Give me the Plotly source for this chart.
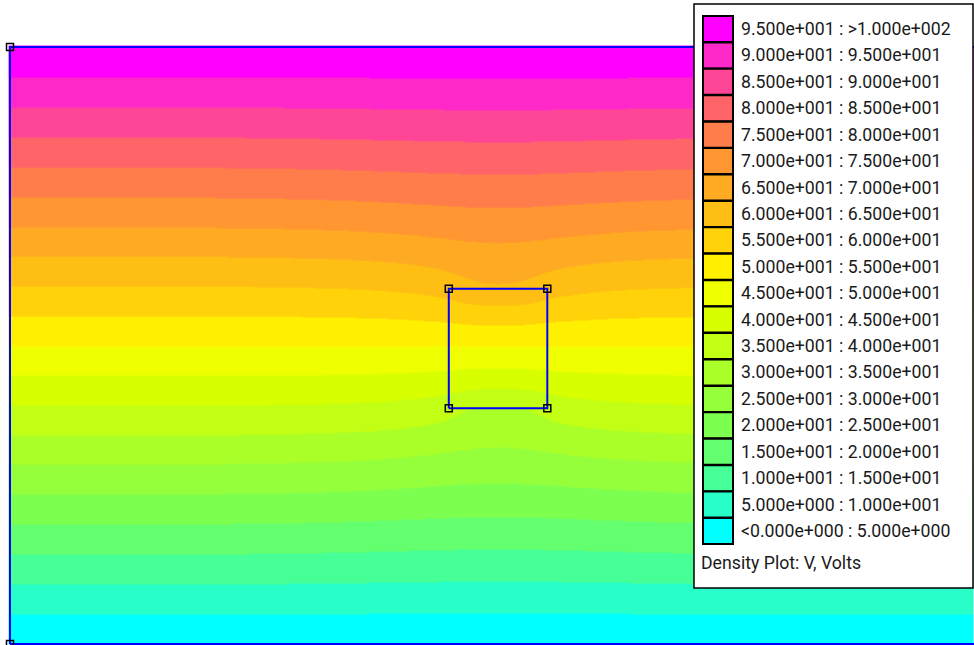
import numpy as np
import plotly.graph_objects as go

# ---- electrostatic problem (lengths in mm, potentials in volts) ----
domain_width = 164.0
domain_height = 100.0
block_x = [73.5, 90.0]
block_y = [39.5, 59.5]
v_top = 100.0
v_bottom = 0.0
eps_background = 3.0
eps_block = 1.0

# ---- density plot bands (lowest to highest) ----
band_edges = [0, 5, 10, 15, 20, 25, 30, 35, 40, 45, 50,
              55, 60, 65, 70, 75, 80, 85, 90, 95, 100]
band_colors = ["#00FFFF", "#28FFC8", "#46FF96", "#64FF6E", "#7DFF50",
               "#96FF3C", "#AAFF28", "#C3FF14", "#D7FF00", "#F0FF00",
               "#FFF000", "#FFD20A", "#FFBE14", "#FFAA23", "#FF9632",
               "#FF7D4B", "#FF6469", "#FF4696", "#FF28C8", "#FF00FF"]
band_labels = ["<0.000e+000 : 5.000e+000", "5.000e+000 : 1.000e+001",
               "1.000e+001 : 1.500e+001", "1.500e+001 : 2.000e+001",
               "2.000e+001 : 2.500e+001", "2.500e+001 : 3.000e+001",
               "3.000e+001 : 3.500e+001", "3.500e+001 : 4.000e+001",
               "4.000e+001 : 4.500e+001", "4.500e+001 : 5.000e+001",
               "5.000e+001 : 5.500e+001", "5.500e+001 : 6.000e+001",
               "6.000e+001 : 6.500e+001", "6.500e+001 : 7.000e+001",
               "7.000e+001 : 7.500e+001", "7.500e+001 : 8.000e+001",
               "8.000e+001 : 8.500e+001", "8.500e+001 : 9.000e+001",
               "9.000e+001 : 9.500e+001", "9.500e+001 : >1.000e+002"]
plot_title = "Density Plot: V, Volts"

# ---- finite-difference solution of div(eps grad V) = 0 ----
h = 0.5
nx = int(round(domain_width / h)) + 1
ny = int(round(domain_height / h)) + 1
x = np.linspace(0.0, domain_width, nx)
y = np.linspace(0.0, domain_height, ny)

xc = 0.5 * (x[:-1] + x[1:])
yc = 0.5 * (y[:-1] + y[1:])
XC, YC = np.meshgrid(xc, yc)
inside = ((XC > block_x[0]) & (XC < block_x[1]) &
          (YC > block_y[0]) & (YC < block_y[1]))
eps = np.where(inside, eps_block, eps_background)

epsp = np.pad(eps, ((1, 1), (0, 0)))
cx = 0.5 * (epsp[:-1] + epsp[1:])          # edges along x, (ny, nx-1)
epsq = np.pad(eps, ((0, 0), (1, 1)))
cy = 0.5 * (epsq[:, :-1] + epsq[:, 1:])    # edges along y, (ny-1, nx)

aE = np.zeros((ny, nx)); aE[:, :-1] = cx
aW = np.zeros((ny, nx)); aW[:, 1:] = cx
aN = np.zeros((ny, nx)); aN[:-1, :] = cy
aS = np.zeros((ny, nx)); aS[1:, :] = cy
asum = aE + aW + aN + aS
asum[asum == 0] = 1.0

V = np.repeat((v_bottom + (v_top - v_bottom) * y / domain_height)[:, None], nx, axis=1)
JJ, II = np.indices((ny, nx))
interior = (JJ > 0) & (JJ < ny - 1)
red = interior & ((JJ + II) % 2 == 0)
black = interior & ((JJ + II) % 2 == 1)
omega = 1.96
for it in range(3000):
    change = 0.0
    for mask in (red, black):
        Vp = np.pad(V, 1)
        S = (aE * Vp[1:-1, 2:] + aW * Vp[1:-1, :-2] +
             aN * Vp[2:, 1:-1] + aS * Vp[:-2, 1:-1])
        R = S / asum - V
        V[mask] += omega * R[mask]
        change = max(change, np.abs(R[mask]).max())
    if change < 1e-6:
        break

# ---- figure ----
W_PX, H_PX = 974, 645
PX_PER_MM = 5.97
ORIGIN_PX = (10, 644)          # pixel of (x=0, y=0)

x_range = [-ORIGIN_PX[0] / PX_PER_MM, (W_PX - ORIGIN_PX[0]) / PX_PER_MM]
y_range = [(ORIGIN_PX[1] - H_PX) / PX_PER_MM, ORIGIN_PX[1] / PX_PER_MM]

n_bands = len(band_colors)
colorscale = []
for k, c in enumerate(band_colors):
    colorscale.append([k / n_bands, c])
    colorscale.append([(k + 1) / n_bands, c])

fig = go.Figure()
fig.add_trace(go.Heatmap(
    x=x, y=y, z=V, zmin=band_edges[0], zmax=band_edges[-1],
    colorscale=colorscale, zsmooth="best", showscale=False, hoverinfo="skip"))

# outer boundary
fig.add_trace(go.Scatter(
    x=[0, domain_width, domain_width, 0, 0],
    y=[0, 0, domain_height, domain_height, 0],
    mode="lines", line=dict(color="#0000FF", width=2), hoverinfo="skip"))
# block outline
bx = [block_x[0], block_x[1], block_x[1], block_x[0], block_x[0]]
by = [block_y[0], block_y[0], block_y[1], block_y[1], block_y[0]]
fig.add_trace(go.Scatter(x=bx, y=by, mode="lines",
                         line=dict(color="#0000FF", width=2), hoverinfo="skip"))
# nodes
node_x = [0, 0, domain_width, domain_width] + bx[:4]
node_y = [0, domain_height, 0, domain_height] + by[:4]
fig.add_trace(go.Scatter(
    x=node_x, y=node_y, mode="markers",
    marker=dict(symbol="square-open", size=7, color="#000000",
                line=dict(width=1.5, color="#000000")),
    hoverinfo="skip"))


def fx(px):
    return px / W_PX


def fy(py):
    return 1 - py / H_PX


LABEL_FONT = dict(family="Roboto", size=17.7, color="#1a1a1a")
shapes = [dict(type="rect", xref="paper", yref="paper",
               x0=fx(694), x1=fx(973), y0=fy(588), y1=fy(4),
               fillcolor="white", line=dict(color="black", width=1.5),
               layer="above")]
annotations = []
SW_TOP, SW_PITCH, SW_H = 16, 26.42, 26
for i in range(n_bands):
    k = n_bands - 1 - i
    top = SW_TOP + i * SW_PITCH
    shapes.append(dict(type="rect", xref="paper", yref="paper",
                       x0=fx(703), x1=fx(733), y0=fy(top + SW_H), y1=fy(top),
                       fillcolor=band_colors[k], line=dict(color="black", width=2),
                       layer="above"))
    annotations.append(dict(xref="paper", yref="paper", x=fx(739),
                            y=fy(top + SW_H / 2), xanchor="left", yanchor="middle",
                            text=band_labels[k], showarrow=False, font=LABEL_FONT))
annotations.append(dict(xref="paper", yref="paper", x=fx(699), y=fy(563),
                        xanchor="left", yanchor="middle", text=plot_title,
                        showarrow=False, font=LABEL_FONT))

fig.update_layout(
    width=W_PX, height=H_PX, margin=dict(l=0, r=0, t=0, b=0),
    paper_bgcolor="white", plot_bgcolor="white", showlegend=False,
    xaxis=dict(range=x_range, visible=False, fixedrange=True),
    yaxis=dict(range=y_range, visible=False, fixedrange=True),
    shapes=shapes, annotations=annotations)

fig.write_html("out.html")
